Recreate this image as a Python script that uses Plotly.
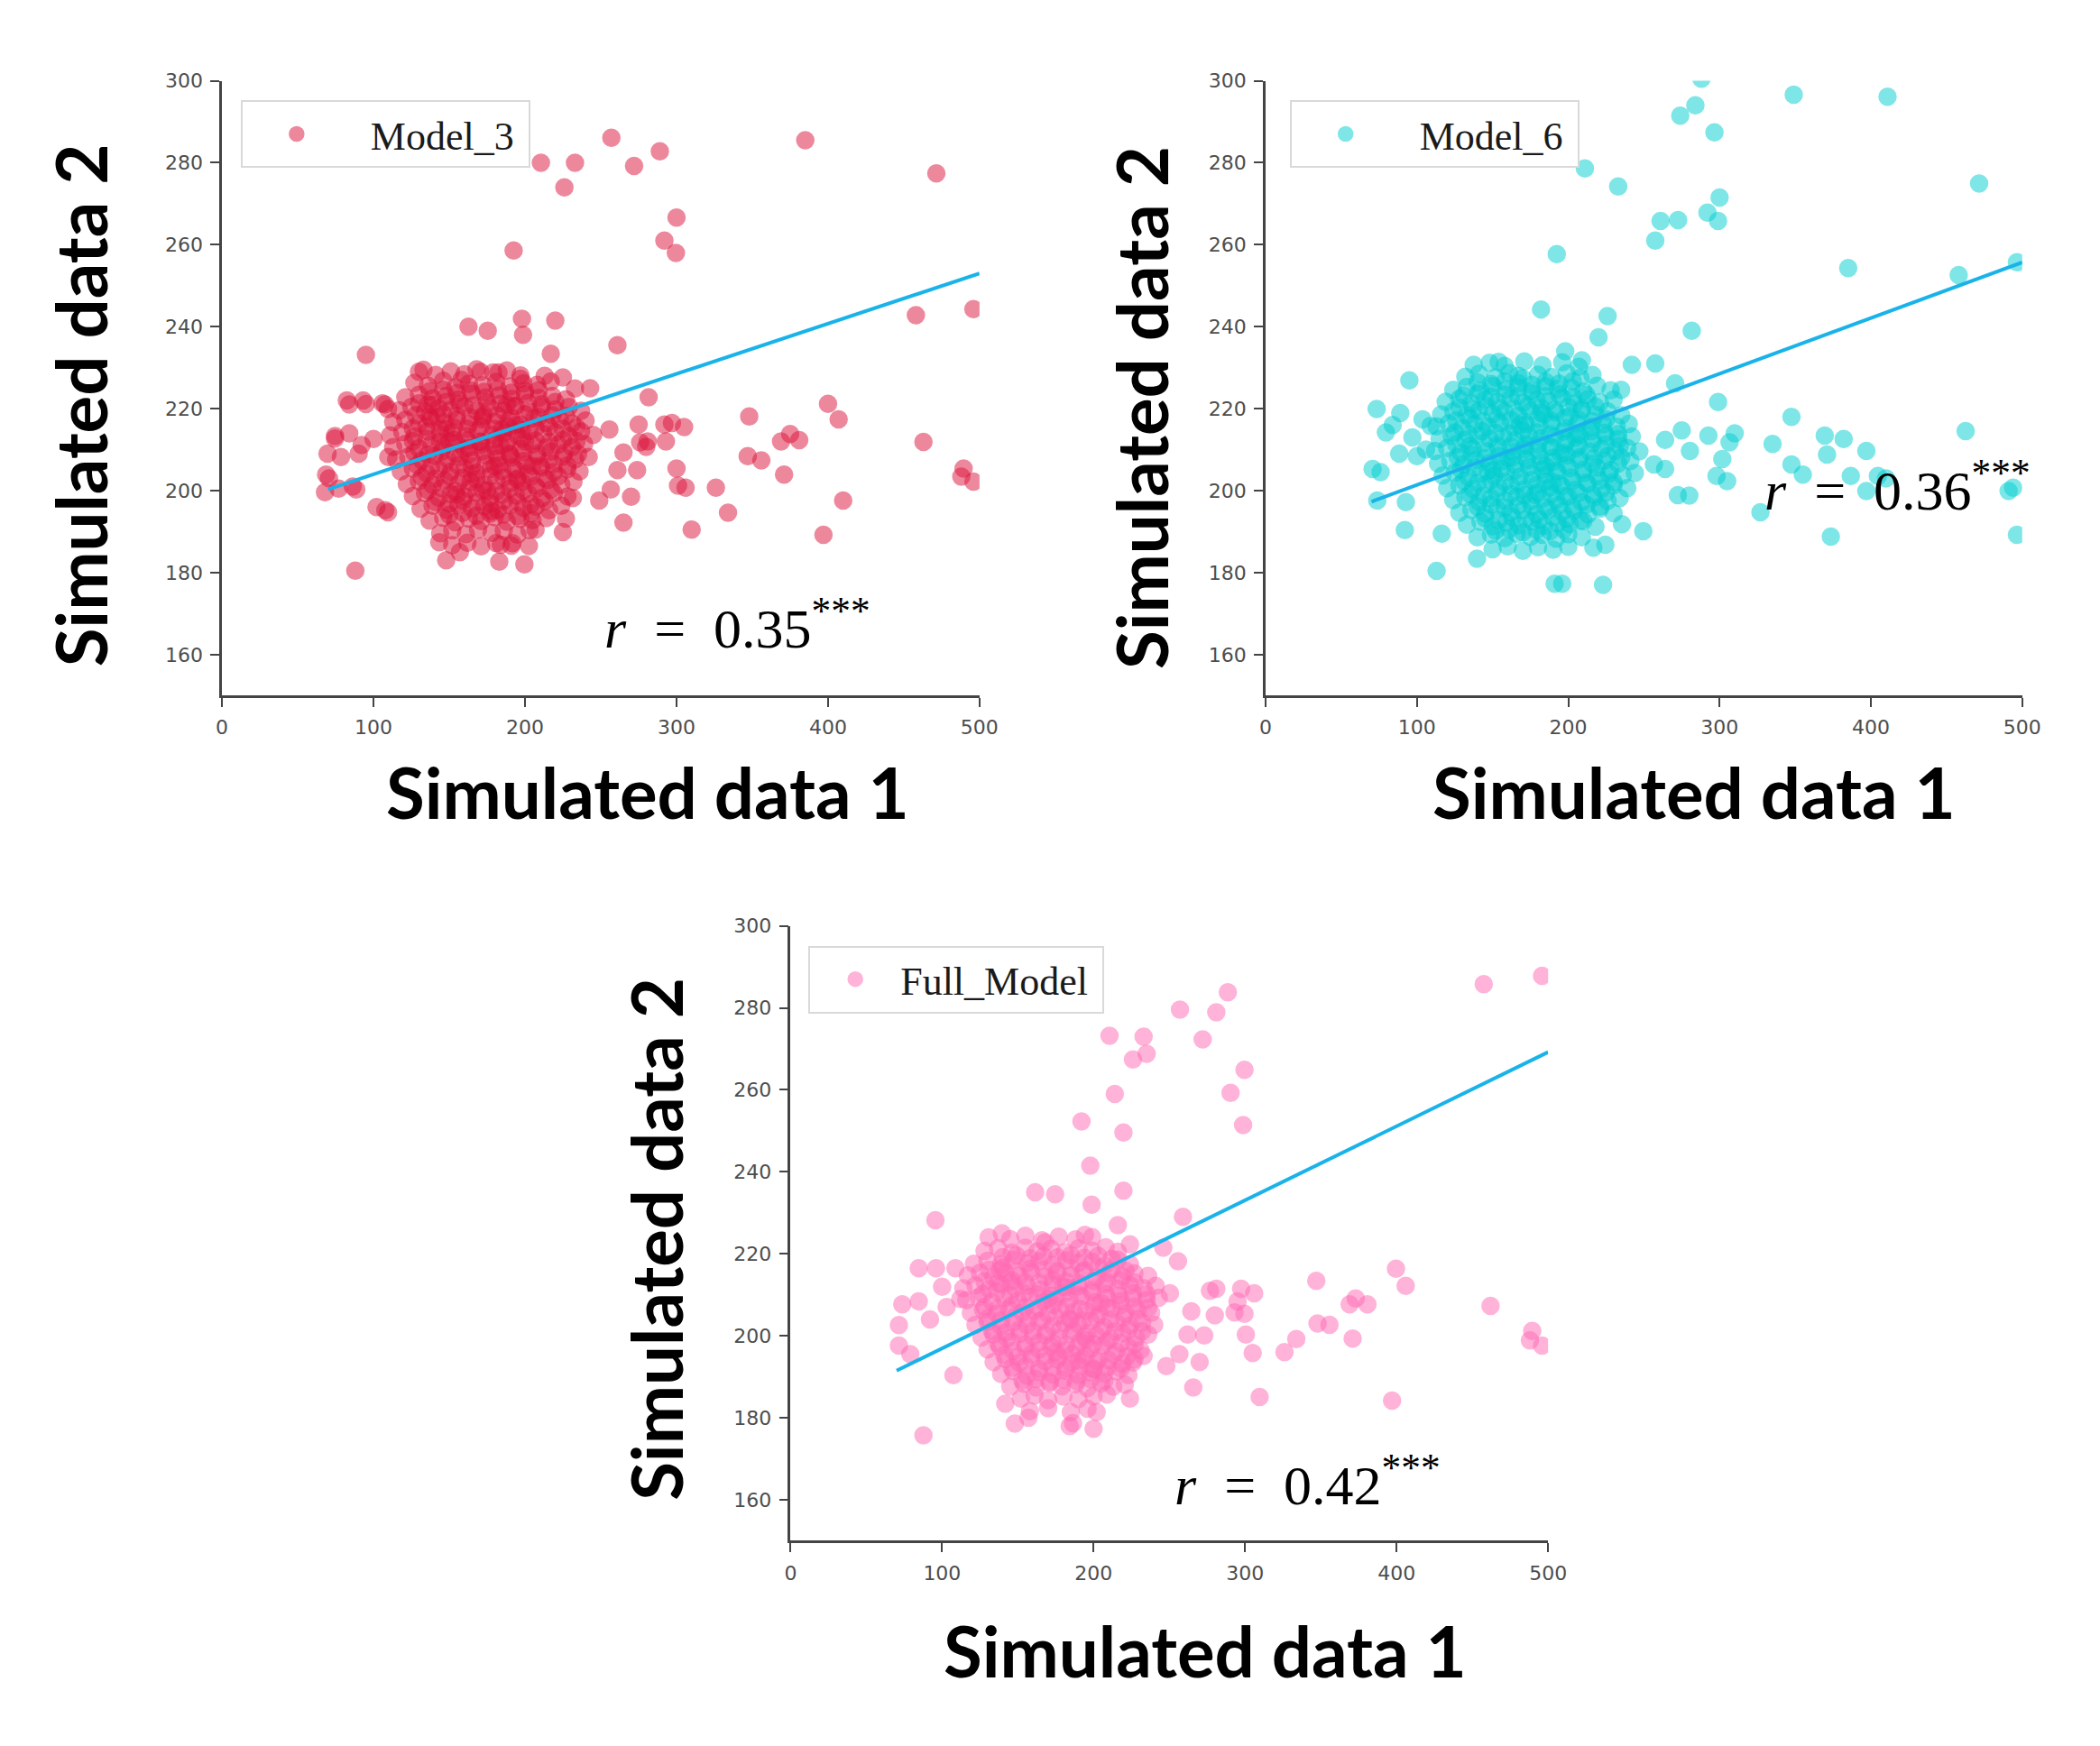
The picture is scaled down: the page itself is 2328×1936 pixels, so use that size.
import plotly.graph_objects as go

# ---- data ----
x_ticks = [0, 100, 200, 300, 400, 500]
y_ticks = [160, 180, 200, 220, 240, 260, 280, 300]

# regression line end points
fit_x = [70, 500]
m3_fit = [200.3, 253.0]
m6_fit = [197.3, 255.7]
full_fit = [191.5, 269.2]

r_labels = ["0.35", "0.36", "0.42"]

# Model_3: scattered points
m3_out = [(257, 286.1), (289, 282.8), (385, 285.5), (210.5, 280), (233, 280), (272, 279.2),
          (226, 274), (471.5, 277.4), (300, 266.6), (292, 261), (299.6, 258), (192.5, 258.6),
          (458, 242.8), (496, 244.3), (220, 241.5), (198, 241.9), (198.7, 238), (162.7, 240),
          (175.4, 239), (95, 233.1), (261, 235.5), (217, 233.4), (243, 225), (281.6, 222.8),
          (348, 218.1), (400, 221.2), (407, 217.4), (463, 211.9), (369, 212), (375, 213.8),
          (381, 212.3), (347, 208.4), (356, 207.4), (371, 203.9), (489.5, 205.4), (488, 203.4),
          (496, 202.2), (326, 200.7), (334, 194.6), (310, 190.5), (410, 197.6), (397, 189.2),
          (300, 205.4), (301, 201.2), (306, 200.7), (297, 216.5), (292, 216.1), (305, 215.5),
          (275, 216.1), (276, 211.8), (280, 210.7), (265, 209.3), (255.7, 214.9), (261, 205),
          (274, 205), (256.6, 200.3), (270, 198.5), (249, 197.6), (265, 192.2), (281, 212),
          (293, 212), (88, 180.5), (70.6, 203), (68, 199.6), (77, 200.5), (88.6, 200.3),
          (84, 221), (95, 221.1), (74.6, 212.7), (84, 214), (107.5, 221), (109.6, 219.9),
          (109.6, 194.7), (148, 183), (143.4, 187.4), (157, 185), (183, 182.7), (199.6, 182),
          (191.7, 187.2), (202.6, 186.5), (184, 186.8), (207, 190.5), (225, 189.9), (227, 193.2),
          (231.6, 198.2), (130, 229), (158, 227), (170.6, 229), (182.5, 228.8), (213, 228),
          (225, 227.6), (233, 224.9), (197, 227.3), (82.4, 222), (93.2, 222), (105.9, 221.3),
          (74.6, 213.3), (92.2, 211.1), (100, 212.6), (69.7, 209), (78.5, 208.2), (90.2, 209),
          (68.7, 203.9), (86.3, 201), (109.8, 208.2), (107.8, 195.2), (102, 196)]

# Model_3: dense cloud
m3_core = [(133, 229.5), (141, 228.2), (151, 229.1), (160, 228.4), (168, 229.6), (179, 228.8), (188, 229.3), (197, 228.1),
           (127, 226.3), (136, 225.6), (146, 226.8), (154, 225.2), (163, 226.1), (172, 225.7), (181, 226.5), (190, 225.4),
           (199, 226.2), (208, 225.8), (217, 226.6),
           (121, 222.8), (130, 223.4), (139, 222.5), (148, 223.1), (156, 222.2), (165, 223.6), (174, 222.7), (183, 223.2),
           (191, 222.4), (200, 223.5), (209, 222.6), (218, 223.1), (227, 222.3),
           (117, 219.6), (125, 220.4), (134, 219.3), (143, 220.2), (151, 219.7), (160, 220.5), (168, 219.4), (177, 220.1),
           (186, 219.5), (194, 220.6), (203, 219.2), (211, 220.3), (220, 219.8), (229, 220.4), (237, 219.5),
           (113, 216.7), (121, 217.3), (130, 216.4), (138, 217.5), (147, 216.6), (155, 217.2), (163, 216.3), (172, 217.4),
           (180, 216.8), (189, 217.1), (197, 216.2), (206, 217.6), (214, 216.5), (223, 217.3), (231, 216.4), (240, 217.1),
           (111, 213.5), (119, 214.3), (127, 213.2), (136, 214.4), (144, 213.7), (152, 214.2), (161, 213.3), (169, 214.6),
           (178, 213.6), (186, 214.1), (195, 213.4), (203, 214.5), (212, 213.8), (220, 214.2), (229, 213.3), (237, 214.4),
           (245, 213.6),
           (113, 210.6), (121, 211.4), (130, 210.3), (138, 211.2), (146, 210.7), (155, 211.5), (163, 210.4), (171, 211.1),
           (180, 210.8), (188, 211.6), (197, 210.2), (205, 211.3), (214, 210.5), (222, 211.2), (231, 210.6), (239, 211.4),
           (115, 207.6), (123, 208.3), (132, 207.4), (140, 208.5), (149, 207.7), (157, 208.2), (165, 207.3), (174, 208.6),
           (182, 207.8), (191, 208.1), (199, 207.2), (208, 208.4), (216, 207.5), (225, 208.3), (233, 207.6), (242, 208.2),
           (118, 204.7), (126, 205.4), (135, 204.3), (143, 205.2), (151, 204.6), (160, 205.5), (168, 204.4), (177, 205.3),
           (185, 204.8), (194, 205.1), (202, 204.2), (211, 205.6), (219, 204.5), (228, 205.2), (236, 204.7),
           (122, 201.6), (130, 202.3), (139, 201.4), (147, 202.5), (156, 201.7), (164, 202.2), (173, 201.3), (181, 202.4),
           (190, 201.8), (198, 202.1), (207, 201.2), (215, 202.6), (224, 201.5), (232, 202.2),
           (126, 198.7), (134, 199.4), (143, 198.3), (151, 199.2), (160, 198.6), (168, 199.5), (177, 198.4), (185, 199.1),
           (194, 198.8), (202, 199.3), (211, 198.2), (219, 199.4), (228, 198.6),
           (131, 195.6), (139, 196.3), (148, 195.4), (156, 196.5), (165, 195.7), (173, 196.2), (182, 195.3), (190, 196.4),
           (199, 195.8), (207, 196.1), (216, 195.2), (224, 196.3),
           (137, 192.7), (146, 193.4), (154, 192.3), (163, 193.2), (171, 192.6), (180, 193.5), (188, 192.4), (197, 193.1),
           (205, 192.8), (214, 193.3),
           (144, 189.6), (152, 190.3), (161, 189.4), (169, 190.5), (178, 189.7), (186, 190.2), (195, 189.3), (203, 190.4),
           (152, 186.7), (162, 187.3), (171, 186.4), (181, 187.2), (191, 186.6),
           (160, 210), (170, 212), (180, 206), (190, 209), (175, 200), (185, 215), (165, 204), (195, 203),
           (150, 212), (200, 212), (172, 218), (188, 221), (155, 199), (205, 206), (178, 195), (142, 218),
           (136, 221), (148, 215), (184, 211), (194, 216)]

m3_inner = [(137, 224.2), (146, 224.6), (155, 223.8), (164, 224.4), (173, 224.1), (182, 224.7), (191, 223.9), (200, 224.3), (209, 224.5),
            (130, 221.3), (139, 220.9), (148, 221.6), (157, 221.1), (166, 220.8), (175, 221.5), (184, 221.2), (193, 220.7),
            (202, 221.4), (211, 221.0), (220, 221.6),
            (128, 218.4), (137, 218.1), (146, 218.7), (155, 218.2), (164, 217.9), (173, 218.5), (182, 218.3), (191, 217.8),
            (200, 218.6), (209, 218.0), (218, 218.4), (227, 218.2),
            (126, 215.2), (135, 215.6), (144, 214.9), (153, 215.4), (162, 215.1), (171, 215.7), (180, 215.0), (189, 215.5),
            (198, 214.8), (207, 215.3), (216, 215.6), (225, 215.1), (234, 215.4),
            (126, 212.1), (135, 212.6), (144, 211.9), (153, 212.4), (162, 212.2), (171, 211.8), (180, 212.5), (189, 212.0),
            (198, 212.7), (207, 212.2), (216, 211.9), (225, 212.4), (234, 212.1),
            (127, 209.3), (136, 208.8), (145, 209.5), (154, 209.1), (163, 208.9), (172, 209.6), (181, 209.2), (190, 208.7),
            (199, 209.4), (208, 209.0), (217, 209.5), (226, 209.2), (235, 208.9),
            (129, 206.2), (138, 205.8), (147, 206.5), (156, 206.1), (165, 205.9), (174, 206.6), (183, 206.2), (192, 205.7),
            (201, 206.4), (210, 206.0), (219, 206.5), (228, 206.1),
            (132, 203.3), (141, 202.9), (150, 203.5), (159, 203.1), (168, 202.8), (177, 203.6), (186, 203.2), (195, 202.7),
            (204, 203.4), (213, 203.0), (222, 203.5),
            (136, 200.1), (145, 200.6), (154, 199.9), (163, 200.4), (172, 200.2), (181, 199.8), (190, 200.5), (199, 200.0),
            (208, 200.6), (217, 200.2),
            (141, 197.2), (150, 196.8), (159, 197.5), (168, 197.1), (177, 196.9), (186, 197.6), (195, 197.2), (204, 196.7),
            (213, 197.4),
            (150, 194.1), (159, 194.6), (168, 193.9), (177, 194.4), (186, 194.2), (195, 193.8), (204, 194.5)]

# Model_6: scattered points
m6_out = [(288, 300.5), (349, 296.6), (411, 296.1), (274, 291.5), (284, 294), (296.6, 287.4),
          (211, 278.6), (233, 274.2), (471.5, 274.9), (292, 267.8), (300, 271.5), (299, 265.8),
          (261, 265.8), (272.6, 266), (257.5, 261), (192.4, 257.7), (385, 254.3), (458, 252.6),
          (496.5, 255.7), (182, 244.2), (226, 242.6), (220, 237.4), (281.6, 239), (95, 226.9),
          (242, 230.7), (257.5, 231), (235, 224.6), (270.6, 226.2), (299, 221.6), (347.5, 218),
          (462.6, 214.5), (369.5, 213.4), (382, 212.6), (335, 211.4), (397, 209.7), (310, 214),
          (292.6, 213.4), (306.6, 211.8), (347.5, 206.4), (355, 203.9), (371, 208.8), (301.8, 207.7),
          (298, 203.6), (305, 202.3), (264, 212.4), (275, 214.7), (280.4, 209.7), (256.6, 206.4),
          (264, 205.3), (272.4, 198.9), (280, 198.8), (327, 194.7), (373.5, 188.8), (496.5, 189.2),
          (491, 199.9), (494, 200.7), (397, 199.9), (404.6, 203.6), (386.7, 203.6), (410, 203),
          (113, 180.4), (92, 190.4), (92.7, 197.2), (73.4, 219.9), (89, 218.9), (79.5, 214.2),
          (70.7, 205.3), (76, 204.5), (73.8, 197.6), (88.3, 209), (100, 208.4), (103.7, 217.4),
          (109, 215.8), (116.4, 189.5), (139.7, 183.4), (191, 177.3), (196, 177.3), (223, 177),
          (216.6, 186.1), (224.5, 186.8), (235.5, 191.8), (249.6, 190.1), (137.5, 230.7), (154, 231.4),
          (167, 228), (198, 234), (209, 231.8), (84, 216), (97, 213), (106, 210)]

# Model_6: dense cloud
m6_core = [(148, 231.2), (158, 230.4), (171, 231.5), (183, 230.6), (196, 231.3), (207, 230.2),
           (132, 227.8), (141, 228.5), (152, 227.6), (161, 228.7), (170, 227.4), (180, 228.3), (189, 227.7), (199, 228.6),
           (208, 227.5), (216, 228.2),
           (124, 224.6), (133, 225.3), (142, 224.4), (150, 225.5), (159, 224.7), (167, 225.2), (176, 224.3), (185, 225.4),
           (193, 224.8), (202, 225.1), (210, 224.2), (219, 225.6), (228, 224.5),
           (119, 221.7), (128, 222.4), (136, 221.3), (145, 222.2), (153, 221.6), (162, 222.5), (170, 221.4), (179, 222.1),
           (187, 221.8), (196, 222.6), (204, 221.2), (213, 222.3), (221, 221.5), (230, 222.2),
           (116, 218.6), (124, 219.3), (133, 218.4), (141, 219.5), (150, 218.7), (158, 219.2), (167, 218.3), (175, 219.4),
           (184, 218.6), (192, 219.1), (201, 218.2), (209, 219.6), (218, 218.5), (226, 219.3), (235, 218.4),
           (113, 215.7), (121, 216.4), (130, 215.3), (138, 216.2), (147, 215.6), (155, 216.5), (164, 215.4), (172, 216.1),
           (181, 215.8), (189, 216.3), (198, 215.2), (206, 216.4), (215, 215.5), (223, 216.2), (232, 215.6), (240, 216.3),
           (115, 212.6), (123, 213.3), (132, 212.4), (140, 213.5), (148, 212.7), (157, 213.2), (165, 212.3), (174, 213.4),
           (182, 212.8), (191, 213.1), (199, 212.2), (208, 213.6), (216, 212.5), (225, 213.3), (233, 212.6), (242, 213.2),
           (112, 209.7), (120, 210.4), (129, 209.3), (137, 210.2), (146, 209.6), (154, 210.5), (163, 209.4), (171, 210.1),
           (180, 209.8), (188, 210.6), (197, 209.2), (205, 210.3), (214, 209.5), (222, 210.2), (231, 209.7), (239, 210.4),
           (247, 209.6),
           (114, 206.6), (122, 207.3), (131, 206.4), (139, 207.5), (148, 206.7), (156, 207.2), (165, 206.3), (173, 207.4),
           (182, 206.8), (190, 207.1), (199, 206.2), (207, 207.6), (216, 206.5), (224, 207.3), (233, 206.6), (241, 207.2),
           (117, 203.7), (125, 204.4), (134, 203.3), (142, 204.2), (151, 203.6), (159, 204.5), (168, 203.4), (176, 204.1),
           (185, 203.8), (193, 204.6), (202, 203.2), (210, 204.3), (219, 203.5), (227, 204.2), (236, 203.7), (244, 204.3),
           (120, 200.6), (128, 201.3), (137, 200.4), (145, 201.5), (154, 200.7), (162, 201.2), (171, 200.3), (179, 201.4),
           (188, 200.8), (196, 201.1), (205, 200.2), (213, 201.6), (222, 200.5), (230, 201.3), (239, 200.6),
           (124, 197.7), (132, 198.4), (141, 197.3), (149, 198.2), (158, 197.6), (166, 198.5), (175, 197.4), (183, 198.1),
           (192, 197.8), (200, 198.6), (209, 197.2), (217, 198.3), (226, 197.5), (234, 198.2),
           (128, 194.6), (136, 195.3), (145, 194.4), (153, 195.5), (162, 194.7), (170, 195.2), (179, 194.3), (187, 195.4),
           (196, 194.8), (204, 195.1), (213, 194.2), (221, 195.6), (230, 194.5),
           (133, 191.7), (142, 192.4), (150, 191.3), (159, 192.2), (167, 191.6), (176, 192.5), (184, 191.4), (193, 192.1),
           (201, 191.8), (210, 192.6), (218, 191.2),
           (140, 188.6), (149, 189.3), (158, 188.4), (166, 189.5), (175, 188.7), (183, 189.2), (192, 188.3), (200, 189.4),
           (209, 188.6),
           (150, 185.7), (160, 186.4), (170, 185.3), (180, 186.2), (190, 185.6), (200, 186.3),
           (160, 208), (172, 211), (185, 206), (195, 209), (178, 199), (168, 216), (190, 202), (150, 205),
           (205, 213), (182, 219)]

m6_inner = [(140, 226.4), (149, 226.0), (158, 226.6), (167, 226.2), (176, 225.8), (185, 226.5), (194, 226.1), (203, 226.7),
            (131, 223.2), (140, 223.6), (149, 222.9), (158, 223.4), (167, 223.1), (176, 223.7), (185, 223.0), (194, 223.5),
            (203, 222.8), (212, 223.3),
            (128, 220.3), (137, 219.8), (146, 220.5), (155, 220.1), (164, 219.9), (173, 220.6), (182, 220.2), (191, 219.7),
            (200, 220.4), (209, 220.0), (218, 220.5),
            (126, 217.1), (135, 217.6), (144, 216.9), (153, 217.4), (162, 217.2), (171, 216.8), (180, 217.5), (189, 217.0),
            (198, 217.7), (207, 217.2), (216, 216.9), (225, 217.4),
            (125, 214.2), (134, 213.8), (143, 214.5), (152, 214.1), (161, 213.9), (170, 214.6), (179, 214.2), (188, 213.7),
            (197, 214.4), (206, 214.0), (215, 214.5), (224, 214.1), (233, 213.8),
            (126, 211.3), (135, 210.9), (144, 211.6), (153, 211.1), (162, 210.8), (171, 211.5), (180, 211.2), (189, 210.7),
            (198, 211.4), (207, 211.0), (216, 211.6), (225, 211.2), (234, 210.9),
            (127, 208.2), (136, 208.7), (145, 207.9), (154, 208.4), (163, 208.1), (172, 207.8), (181, 208.5), (190, 208.0),
            (199, 208.6), (208, 208.2), (217, 207.9), (226, 208.4), (235, 208.1),
            (129, 205.1), (138, 205.6), (147, 204.8), (156, 205.3), (165, 205.0), (174, 205.7), (183, 205.2), (192, 204.9),
            (201, 205.5), (210, 205.1), (219, 205.6), (228, 205.0),
            (131, 202.3), (140, 201.8), (149, 202.5), (158, 202.1), (167, 201.9), (176, 202.6), (185, 202.2), (194, 201.7),
            (203, 202.4), (212, 202.0), (221, 202.5), (230, 202.1),
            (135, 199.2), (144, 198.8), (153, 199.5), (162, 199.1), (171, 198.9), (180, 199.6), (189, 199.2), (198, 198.7),
            (207, 199.4), (216, 199.0), (225, 199.5),
            (140, 196.1), (149, 196.6), (158, 195.9), (167, 196.4), (176, 196.2), (185, 195.8), (194, 196.5), (203, 196.0),
            (212, 196.6), (221, 196.1),
            (145, 193.3), (154, 192.8), (163, 193.5), (172, 193.1), (181, 192.9), (190, 193.6), (199, 193.2), (208, 192.7),
            (152, 190.2), (161, 190.6), (170, 189.9), (179, 190.4), (188, 190.1), (197, 190.5)]

# Full_Model: scattered points
full_out = [(457.5, 285.8), (496, 287.8), (288.6, 283.8), (257, 279.6), (281, 278.9), (272, 272.3),
            (210.5, 273.2), (233, 273), (226, 267.4), (235, 268.8), (299.6, 264.9), (290.4, 259.3),
            (298.7, 251.4), (214, 259), (192, 252.3), (219.7, 249.6), (197.8, 241.5), (161.4, 235),
            (174.6, 234.5), (198.7, 232), (219.7, 235.4), (95.6, 228.2), (259, 229), (216, 227),
            (224, 222.3), (246, 221.5), (255.7, 218.2), (399.6, 216.4), (406, 212.2), (347, 213.4),
            (462, 207.3), (369, 207.7), (373, 209.1), (380.7, 207.7), (371, 199.3), (347.8, 203),
            (355.7, 202.7), (333.8, 199.2), (326, 196), (309.6, 185.1), (397, 184.2), (489.5, 201.2),
            (488, 198.9), (496, 197.6), (297.4, 211.5), (306, 210.4), (276.8, 211), (281, 211.5),
            (280, 205), (295, 208.4), (299.6, 205.4), (264.5, 206), (300.5, 200.3), (305, 195.8),
            (273, 200.1), (262, 200.3), (248, 192.6), (256.6, 195.5), (270, 193.6), (265.8, 187.4),
            (250.4, 210.4), (293, 205.7), (87.7, 175.7), (107.5, 190.4), (71.5, 197.6), (84.6, 216.5),
            (96, 216.5), (73.7, 207.7), (84.6, 208.4), (71.5, 202.6), (79, 195.5), (108.8, 216.5),
            (103, 207), (141.7, 183.4), (148, 178.6), (157, 180), (184.2, 178), (186.4, 178.7),
            (200, 177.3), (202, 181.4), (208.8, 185.7), (220.6, 188.1), (224, 184.7), (226, 193.5),
            (233, 195.1), (168, 222.8), (194.3, 224.6), (130.7, 224), (139.5, 225), (92, 204),
            (100, 212), (112, 209)]

# Full_Model: dense cloud
full_core = [(145, 223.6), (155, 224.4), (166, 223.3), (177, 224.2), (188, 223.5), (199, 224.1),
             (128, 220.7), (137, 221.4), (146, 220.3), (155, 221.5), (163, 220.6), (172, 221.2), (181, 220.4), (190, 221.3),
             (199, 220.8), (208, 221.6), (216, 220.5),
             (121, 217.6), (130, 218.3), (139, 217.4), (147, 218.5), (156, 217.7), (164, 218.2), (173, 217.3), (182, 218.4),
             (190, 217.8), (199, 218.1), (207, 217.2), (216, 218.6), (224, 217.5),
             (117, 214.7), (125, 215.4), (134, 214.3), (142, 215.2), (151, 214.6), (159, 215.5), (168, 214.4), (176, 215.1),
             (185, 214.8), (193, 215.6), (202, 214.2), (210, 215.3), (219, 214.5), (227, 215.2), (236, 214.6),
             (114, 211.6), (122, 212.3), (131, 211.4), (139, 212.5), (148, 211.7), (156, 212.2), (165, 211.3), (173, 212.4),
             (182, 211.8), (190, 212.1), (199, 211.2), (207, 212.6), (216, 211.5), (224, 212.3), (233, 211.6), (241, 212.2),
             (116, 208.7), (124, 209.4), (133, 208.3), (141, 209.2), (150, 208.6), (158, 209.5), (167, 208.4), (175, 209.1),
             (184, 208.8), (192, 209.6), (201, 208.2), (209, 209.3), (218, 208.5), (226, 209.2), (235, 208.7), (243, 209.3),
             (119, 205.6), (127, 206.3), (136, 205.4), (144, 206.5), (153, 205.7), (161, 206.2), (170, 205.3), (178, 206.4),
             (187, 205.8), (195, 206.1), (204, 205.2), (212, 206.6), (221, 205.5), (229, 206.3), (238, 205.6),
             (122, 202.7), (130, 203.4), (139, 202.3), (147, 203.2), (156, 202.6), (164, 203.5), (173, 202.4), (181, 203.1),
             (190, 202.8), (198, 203.6), (207, 202.2), (215, 203.3), (224, 202.5), (232, 203.2), (240, 202.7),
             (126, 199.6), (134, 200.3), (143, 199.4), (151, 200.5), (160, 199.7), (168, 200.2), (177, 199.3), (185, 200.4),
             (194, 199.8), (202, 200.1), (211, 199.2), (219, 200.6), (228, 199.5), (236, 200.3),
             (130, 196.7), (138, 197.4), (147, 196.3), (155, 197.2), (164, 196.6), (172, 197.5), (181, 196.4), (189, 197.1),
             (198, 196.8), (206, 197.6), (215, 196.2), (223, 197.3), (231, 196.5),
             (134, 193.6), (142, 194.3), (151, 193.4), (159, 194.5), (168, 193.7), (176, 194.2), (185, 193.3), (193, 194.4),
             (202, 193.8), (210, 194.1), (219, 193.2), (227, 194.3),
             (139, 190.7), (147, 191.4), (156, 190.3), (164, 191.2), (173, 190.6), (181, 191.5), (190, 190.4), (198, 191.1),
             (207, 190.8), (215, 191.3), (223, 190.4),
             (145, 187.6), (154, 188.3), (162, 187.4), (171, 188.5), (179, 187.7), (188, 188.2), (196, 187.3), (205, 188.4),
             (213, 187.6),
             (152, 184.7), (161, 185.4), (170, 184.3), (180, 185.2), (190, 184.6), (200, 185.3),
             (158, 181.6), (170, 182.3), (185, 181.4), (196, 182.2),
             (185, 204), (195, 199), (175, 196), (205, 208), (190, 194), (170, 209), (200, 192), (180, 212),
             (145, 213), (138, 216)]

full_inner = [(140, 219.2), (149, 219.6), (158, 218.9), (167, 219.4), (176, 219.1), (185, 219.7), (194, 219.0), (203, 219.5), (212, 218.8),
              (131, 216.1), (140, 216.6), (149, 215.9), (158, 216.4), (167, 216.2), (176, 215.8), (185, 216.5), (194, 216.0),
              (203, 216.7), (212, 216.2), (221, 215.9),
              (128, 213.3), (137, 212.8), (146, 213.5), (155, 213.1), (164, 212.9), (173, 213.6), (182, 213.2), (191, 212.7),
              (200, 213.4), (209, 213.0), (218, 213.5), (227, 213.1),
              (127, 210.2), (136, 210.7), (145, 209.9), (154, 210.4), (163, 210.1), (172, 209.8), (181, 210.5), (190, 210.0),
              (199, 210.6), (208, 210.2), (217, 209.9), (226, 210.4), (235, 210.1),
              (128, 207.1), (137, 206.7), (146, 207.4), (155, 207.0), (164, 206.8), (173, 207.5), (182, 207.1), (191, 206.6),
              (200, 207.3), (209, 206.9), (218, 207.5), (227, 207.1), (236, 206.8),
              (130, 204.3), (139, 203.8), (148, 204.5), (157, 204.1), (166, 203.9), (175, 204.6), (184, 204.2), (193, 203.7),
              (202, 204.4), (211, 204.0), (220, 204.5), (229, 204.1),
              (133, 201.2), (142, 200.8), (151, 201.5), (160, 201.1), (169, 200.9), (178, 201.6), (187, 201.2), (196, 200.7),
              (205, 201.4), (214, 201.0), (223, 201.5), (232, 201.1),
              (137, 198.1), (146, 198.6), (155, 197.9), (164, 198.4), (173, 198.2), (182, 197.8), (191, 198.5), (200, 198.0),
              (209, 198.6), (218, 198.2), (227, 197.9),
              (141, 195.3), (150, 194.8), (159, 195.5), (168, 195.1), (177, 194.9), (186, 195.6), (195, 195.2), (204, 194.7),
              (213, 195.4), (222, 195.0),
              (146, 192.2), (155, 192.6), (164, 191.9), (173, 192.4), (182, 192.1), (191, 192.5), (200, 191.8), (209, 192.3),
              (218, 192.0),
              (153, 189.1), (162, 189.5), (171, 188.8), (180, 189.3), (189, 189.0), (198, 189.4), (207, 188.9)]

NB = "\u00a0"
panels = [
    (NB * 2 + "Model_3" + NB, m3_out + m3_core + m3_inner, m3_fit, "#DC143C", "legend", 110),
    (NB * 2 + "Model_6" + NB, m6_out + m6_core + m6_inner, m6_fit, "#00CED1", "legend2", 110),
    ("Full_Model" + NB, full_out + full_core + full_inner, full_fit, "#FF69B4", "legend3", 90),
]

# ---- layout geometry (pixels of a 2328 x 1936 canvas) ----
W, H = 2328, 1936
boxes = [(242, 1092, 78, 764), (1413, 2262, 78, 764), (880, 1730, 1021, 1707)]
ytitle_pos = [(83, 440), (1274, 443), (728, 1370)]
xtitle_pos = [(720, 871), (1894, 871), (1345, 1829)]
legend_pos = [(263, 100), (1440, 100), (900, 1043)]
r_pos = [(820, 684), (2122, 530), (1460, 1640)]

TITLE_FONT = dict(family="Lato", size=78, color="black")

fig = go.Figure()
for i, (name, pts, fit, col, leg, iw) in enumerate(panels):
    sfx = "" if i == 0 else str(i + 1)
    fig.add_trace(go.Scatter(
        x=[p[0] for p in pts], y=[p[1] for p in pts], mode="markers",
        name=name, legend=leg,
        xaxis="x" + sfx, yaxis="y" + sfx,
        marker=dict(size=19, color=col, opacity=0.5, line=dict(color=col, width=1.5)),
    ))
    fig.add_trace(go.Scatter(
        x=fit_x, y=fit, mode="lines", showlegend=False,
        xaxis="x" + sfx, yaxis="y" + sfx,
        line=dict(color="#19b3ea", width=4),
    ))

    x0, x1, y0, y1 = boxes[i]
    ax = dict(showline=True, linecolor="#444444", linewidth=2.5, ticks="outside",
              ticklen=10, tickwidth=2, tickcolor="#444444", showgrid=False, zeroline=False,
              ticklabelstandoff=4,
              tickfont=dict(family="DejaVu Sans", size=22, color="#4d4d4d"))
    fig.layout["xaxis" + sfx] = dict(ax, domain=[x0 / W, x1 / W], range=[0, 500],
                                     tickvals=x_ticks, anchor="y" + sfx)
    fig.layout["yaxis" + sfx] = dict(ax, domain=[1 - y1 / H, 1 - y0 / H], range=[150, 300],
                                     tickvals=y_ticks, anchor="x" + sfx)

    lx, ly = legend_pos[i]
    fig.layout[leg] = dict(x=lx / W, y=1 - ly / H, xanchor="left", yanchor="top",
                           itemwidth=iw, bgcolor="white", bordercolor="#d9d9d9", borderwidth=2,
                           font=dict(family="Liberation Serif", size=44, color="#1a1a1a"))

    tx, ty = ytitle_pos[i]
    fig.add_annotation(x=tx / W, y=1 - ty / H, xref="paper", yref="paper", showarrow=False,
                       xanchor="center", yanchor="middle",
                       text="<b>Simulated data 2</b>", textangle=-90, font=TITLE_FONT)
    tx, ty = xtitle_pos[i]
    fig.add_annotation(x=tx / W, y=1 - ty / H, xref="paper", yref="paper", showarrow=False,
                       xanchor="center", yanchor="middle",
                       text="<b>Simulated data 1</b>", font=TITLE_FONT)
    tx, ty = r_pos[i]
    fig.add_annotation(x=tx / W, y=1 - ty / H, xref="paper", yref="paper", showarrow=False,
                       xanchor="center", yanchor="middle",
                       text="<i>r</i>  =  " + r_labels[i] + "<sup>***</sup>",
                       font=dict(family="Liberation Serif", size=62, color="black"))

fig.update_layout(width=W, height=H, margin=dict(l=0, r=0, t=0, b=0),
                  paper_bgcolor="white", plot_bgcolor="white")

fig.write_html("out.html", config={"displayModeBar": False},
               post_script="document.body.style.margin='0';")
